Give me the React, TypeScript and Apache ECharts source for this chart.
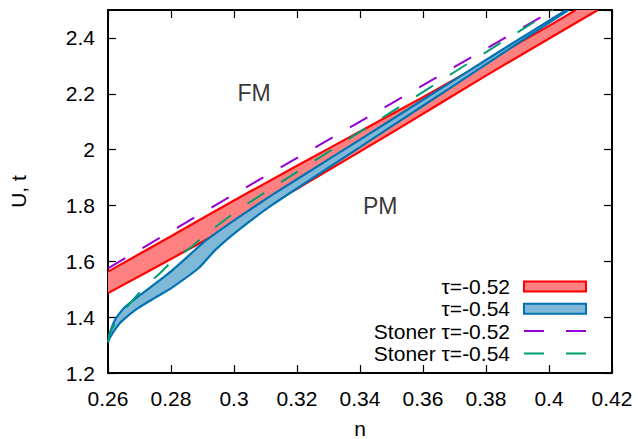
import React, { useEffect, useRef } from "react";
import * as echarts from "echarts";

// ---- data ----
const xMin = 0.26;
const xMax = 0.42;
const xStep = 0.02;
const yMin = 1.2;
const yMax = 2.5;
const yStep = 0.2;

// tau = -0.52 band (red)
const redUpperN = [0.26, 0.28, 0.30, 0.32, 0.34, 0.36, 0.38, 0.40, 0.4085];
const redUpperU = [1.563, 1.69, 1.818, 1.942, 2.065, 2.188, 2.315, 2.443, 2.5];
const redLowerN = [0.26, 0.29, 0.32, 0.35, 0.38, 0.4155];
const redLowerU = [1.486, 1.67, 1.86, 2.06, 2.265, 2.5];

// tau = -0.54 band (blue)
const blueUpperN = [0.26, 0.2605, 0.2622, 0.265, 0.2696, 0.275, 0.2802, 0.2866, 0.2908, 0.3014, 0.312, 0.33, 0.35, 0.37, 0.39, 0.4055];
const blueUpperU = [1.313, 1.34, 1.39, 1.432, 1.474, 1.52, 1.566, 1.63, 1.672, 1.757, 1.837, 1.965, 2.107, 2.25, 2.392, 2.5];
const blueLowerN = [0.26, 0.2605, 0.2625, 0.2643, 0.2696, 0.275, 0.2802, 0.2887, 0.294, 0.3014, 0.312, 0.33, 0.35, 0.37, 0.39, 0.4062];
const blueLowerU = [1.31, 1.325, 1.36, 1.385, 1.433, 1.47, 1.505, 1.575, 1.64, 1.712, 1.801, 1.935, 2.083, 2.231, 2.38, 2.5];

// Stoner lines
const stoner52N = [0.26, 0.30, 0.34, 0.37, 0.4013];
const stoner52U = [1.575, 1.84, 2.10, 2.296, 2.5];
const stoner54N = [0.26, 0.2606, 0.2628, 0.267, 0.2712, 0.2765, 0.2807, 0.2866, 0.2913, 0.2971, 0.3019, 0.3077, 0.3125, 0.33, 0.35, 0.37, 0.39, 0.4013];
const stoner54U = [1.31, 1.344, 1.39, 1.45, 1.504, 1.557, 1.605, 1.652, 1.70, 1.748, 1.789, 1.831, 1.866, 1.992, 2.135, 2.278, 2.42, 2.5];

const seriesNames = ["τ=-0.52", "τ=-0.54", "Stoner τ=-0.52", "Stoner τ=-0.54"];
const regionLabels = ["FM", "PM"];
const regionN = [0.3064, 0.3464];
const regionU = [2.203, 1.799];

const FONT = "'Liberation Sans', Arial, Helvetica, sans-serif";
const RED = "#ff0000";
const RED_FILL = "#ff8080";
const BLUE = "#0072b2";
const BLUE_FILL = "#80b8d8";
const PURPLE = "#9400d3";
const GREEN = "#009e73";

const zip = (a: number[], b: number[]) => a.map((v, i) => [v, b[i]]);

function band(name: string, upN: number[], upU: number[], loN: number[], loU: number[], line: string, fill: string) {
  return {
    type: "custom",
    name,
    silent: true,
    clip: true,
    data: [[upN[0], upU[0]]],
    encode: { x: 0, y: 1 },
    itemStyle: { color: fill, borderColor: line },
    renderItem: (_params: any, api: any) => {
      const up = upN.map((n, i) => api.coord([n, upU[i]]));
      const lo = loN.map((n, i) => api.coord([n, loU[i]]));
      return {
        type: "group",
        children: [
          { type: "polygon", shape: { points: up.concat(lo.slice().reverse()) }, style: { fill, stroke: null } },
          { type: "polyline", shape: { points: up, smooth: 0.15 }, style: { stroke: line, lineWidth: 2.2, fill: null } },
          { type: "polyline", shape: { points: lo, smooth: 0.15 }, style: { stroke: line, lineWidth: 2.2, fill: null } },
        ],
      };
    },
  };
}

const fmt = (v: number) => String(+v.toFixed(2));

export default function App() {
  const ref = useRef<HTMLDivElement>(null);
  useEffect(() => {
    document.body.style.margin = "0";
    if (!ref.current) return;
    const chart = echarts.init(ref.current, null, { renderer: "svg" });
    const axisCommon = {
      axisLine: { show: true, lineStyle: { color: "#000", width: 2 } },
      axisTick: { show: true, inside: true, length: 8, lineStyle: { color: "#000", width: 1.2 } },
      splitLine: { show: false },
    };
    const labelStyle = { color: "#000", fontSize: 21, fontFamily: FONT };
    const hiddenDot = { color: "rgba(0,0,0,0)", opacity: 0, borderWidth: 0 };
    chart.setOption({
      animation: false,
      backgroundColor: "#fff",
      grid: { left: 108, right: 26, top: 10, bottom: 66, containLabel: false, outerBoundsMode: "none" },
      xAxis: [
        {
          type: "value", min: xMin, max: xMax, interval: xStep, position: "bottom",
          ...axisCommon,
          axisLabel: { ...labelStyle, margin: 15, formatter: fmt },
          name: "n", nameLocation: "middle", nameGap: 55,
          nameTextStyle: { ...labelStyle, verticalAlign: "middle", lineHeight: 16 },
        },
        {
          type: "value", min: xMin, max: xMax, interval: xStep, position: "top",
          ...axisCommon, axisLabel: { show: false },
        },
      ],
      yAxis: [
        {
          type: "value", min: yMin, max: yMax, interval: yStep, position: "left",
          ...axisCommon,
          axisLabel: { ...labelStyle, margin: 13, formatter: fmt, showMaxLabel: false },
          name: "U, t", nameLocation: "middle", nameGap: 90,
          nameTextStyle: { ...labelStyle, verticalAlign: "middle" },
        },
        {
          type: "value", min: yMin, max: yMax, interval: yStep, position: "right",
          ...axisCommon, axisLabel: { show: false },
        },
      ],
      legend: {
        orient: "vertical",
        align: "right",
        right: 51,
        top: 276,
        padding: 0,
        itemGap: 1.3,
        itemWidth: 62,
        itemHeight: 10,
        selectedMode: false,
        textStyle: { ...labelStyle, padding: [0, 9, 0, 0] },
        data: [
          { name: seriesNames[0], icon: "rect", itemStyle: { color: RED_FILL, borderColor: RED, borderWidth: 2 } },
          { name: seriesNames[1], icon: "rect", itemStyle: { color: BLUE_FILL, borderColor: BLUE, borderWidth: 2 } },
          { name: seriesNames[2], itemStyle: hiddenDot, lineStyle: { color: PURPLE, width: 2, type: [20, 22] } },
          { name: seriesNames[3], itemStyle: hiddenDot, lineStyle: { color: GREEN, width: 2, type: [20, 22] } },
        ],
      },
      series: [
        band(seriesNames[0], redUpperN, redUpperU, redLowerN, redLowerU, RED, RED_FILL),
        band(seriesNames[1], blueUpperN, blueUpperU, blueLowerN, blueLowerU, BLUE, BLUE_FILL),
        {
          type: "line", name: seriesNames[2], data: zip(stoner52N, stoner52U),
          symbol: "none", showSymbol: false, silent: true,
          lineStyle: { color: PURPLE, width: 2, type: [20, 20] }, itemStyle: { color: PURPLE },
        },
        {
          type: "line", name: seriesNames[3], data: zip(stoner54N, stoner54U),
          symbol: "none", showSymbol: false, silent: true,
          lineStyle: { color: GREEN, width: 2, type: [20, 20] }, itemStyle: { color: GREEN },
        },
        {
          type: "scatter", name: "regions", silent: true,
          data: regionLabels.map((t, i) => ({ name: t, value: [regionN[i], regionU[i]] })),
          symbolSize: 1, itemStyle: { color: "rgba(0,0,0,0)" },
          label: { show: true, position: "inside", formatter: "{b}", color: "#000", fontSize: 23, fontFamily: FONT },
        },
      ],
    });
    return () => chart.dispose();
  }, []);
  return <div ref={ref} style={{ width: 638, height: 439 }} />;
}
